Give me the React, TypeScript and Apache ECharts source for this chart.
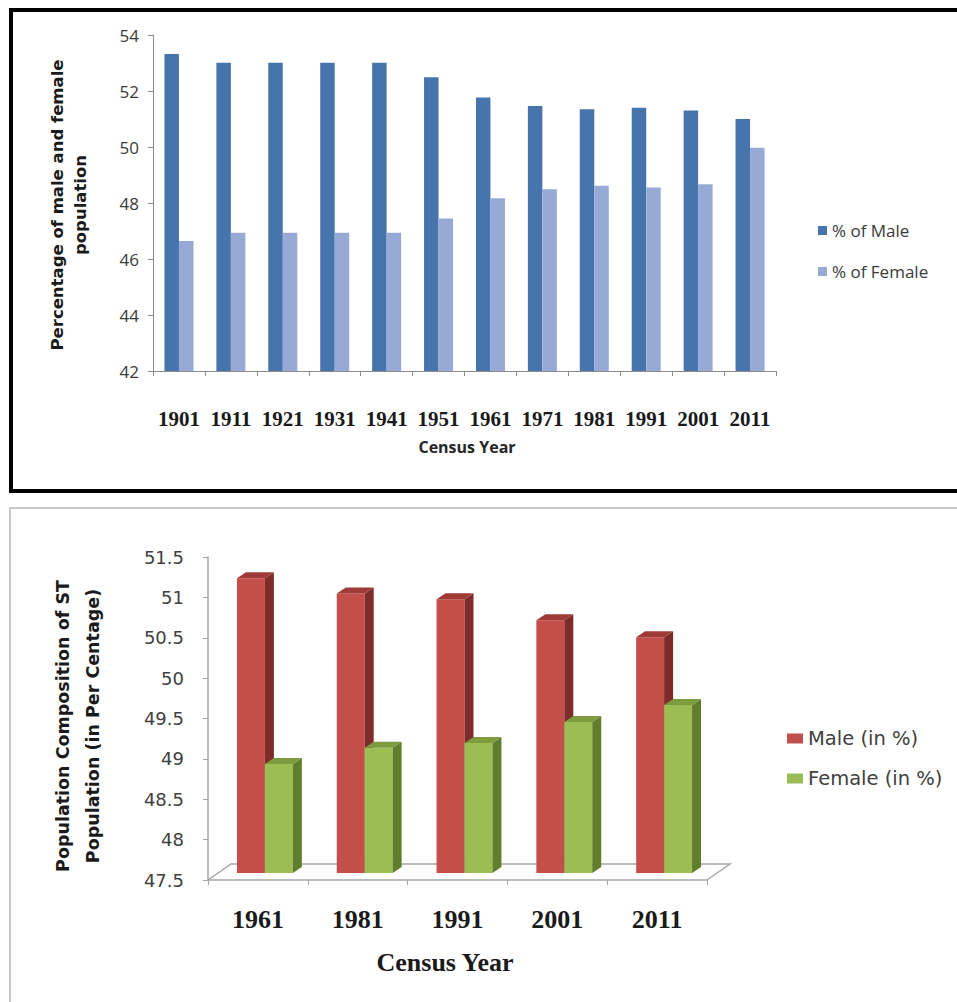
import React, { useEffect, useRef } from "react";
import * as echarts from "echarts";

// ---------- Top chart data ----------
const censusYears = ["1901", "1911", "1921", "1931", "1941", "1951", "1961", "1971", "1981", "1991", "2001", "2011"];
const malePct = [53.32, 53.01, 53.01, 53.01, 53.01, 52.49, 51.77, 51.46, 51.35, 51.4, 51.3, 51.0];
const femalePct = [46.64, 46.94, 46.94, 46.94, 46.94, 47.45, 48.17, 48.49, 48.62, 48.55, 48.67, 49.97];
const topAxisMin = 42;
const topAxisMax = 54;
const topAxisStep = 2;

// ---------- Bottom chart data ----------
const stYears = ["1961", "1981", "1991", "2001", "2011"];
const stMale = [51.15, 50.96, 50.89, 50.63, 50.42];
const stFemale = [48.85, 49.05, 49.11, 49.37, 49.58];
const stAxisMin = 47.5;
const stAxisMax = 51.5;
const stAxisStep = 0.5;

// pseudo-3D geometry (pixels)
const FACE_SHIFT_X = 7;
const FACE_SHIFT_Y = -7;
const BAR_DEPTH_X = 9;
const BAR_DEPTH_Y = -6;
const FLOOR_DEPTH_X = 23;
const FLOOR_DEPTH_Y = -16;
const BAR_FRAC = 0.28;

function bar3D(offsetFrac: number, front: string, side: string, top: string) {
  return (params: any, api: any) => {
    const cat = api.value(0);
    const val = api.value(1);
    const base = api.coord([cat, stAxisMin]);
    const head = api.coord([cat, val]);
    const band = api.size([1, 0])[0];
    const w = band * BAR_FRAC;
    const x0 = head[0] + offsetFrac * band + FACE_SHIFT_X;
    const x1 = x0 + w;
    const yb = base[1] + FACE_SHIFT_Y;
    const yt = head[1] + FACE_SHIFT_Y;
    return {
      type: "group",
      children: [
        { type: "polygon", shape: { points: [[x0, yb], [x1, yb], [x1, yt], [x0, yt]] }, style: { fill: front } },
        {
          type: "polygon",
          shape: { points: [[x1, yb], [x1 + BAR_DEPTH_X, yb + BAR_DEPTH_Y], [x1 + BAR_DEPTH_X, yt + BAR_DEPTH_Y], [x1, yt]] },
          style: { fill: side },
        },
        {
          type: "polygon",
          shape: { points: [[x0, yt], [x1, yt], [x1 + BAR_DEPTH_X, yt + BAR_DEPTH_Y], [x0 + BAR_DEPTH_X, yt + BAR_DEPTH_Y]] },
          style: { fill: top },
        },
      ],
    };
  };
}

function floorRender(params: any, api: any) {
  const band = api.size([1, 0])[0];
  const a = api.coord([0, stAxisMin]);
  const b = api.coord([stYears.length - 1, stAxisMin]);
  const xl = a[0] - band / 2;
  const xr = b[0] + band / 2;
  const y = a[1];
  return {
    type: "group",
    children: [
      {
        type: "polyline",
        shape: { points: [[xl, y], [xl + FLOOR_DEPTH_X, y + FLOOR_DEPTH_Y], [xr + FLOOR_DEPTH_X, y + FLOOR_DEPTH_Y], [xr, y]] },
        style: { stroke: "#a6a6a6", lineWidth: 1.5, fill: "none" },
      },
    ],
  };
}

export default function App() {
  const ref = useRef<HTMLDivElement>(null);
  useEffect(() => {
    if (!ref.current) return;
    const chart = echarts.init(ref.current, null, { renderer: "svg" });
    const grayAxis = { lineStyle: { color: "#8c8c8c", width: 1 } };
    const option: any = {
      animation: false,
      backgroundColor: "#ffffff",
      grid: [
        { left: 153, top: 35, width: 623, height: 336 },
        { left: 208, top: 557, width: 499, height: 323 },
      ],
      legend: [
        {
          data: ["% of Male", "% of Female"],
          orient: "vertical",
          left: 813,
          top: 216,
          itemWidth: 9,
          itemHeight: 9,
          itemGap: 22,
          icon: "rect",
          textStyle: { fontFamily: "Open Sans", fontSize: 17, color: "#3a3a3a", lineHeight: 19 },
        },
        {
          data: ["Male (in %)", "Female (in %)"],
          orient: "vertical",
          left: 782,
          top: 723,
          itemWidth: 16,
          itemHeight: 10,
          itemGap: 19,
          icon: "rect",
          textStyle: { fontFamily: "DejaVu Sans", fontSize: 19.5, color: "#404040", lineHeight: 21 },
        },
      ],
      xAxis: [
        {
          type: "category",
          gridIndex: 0,
          data: censusYears,
          axisLine: grayAxis,
          axisTick: { show: true, length: 5, lineStyle: { color: "#8c8c8c" } },
          axisLabel: {
            margin: 37,
            fontFamily: "Liberation Serif",
            fontWeight: "bold",
            fontSize: 21,
            color: "#1a1a1a",
            interval: 0,
          },
        },
        {
          type: "category",
          gridIndex: 1,
          data: stYears,
          axisLine: { lineStyle: { color: "#a6a6a6", width: 1.5 } },
          axisTick: { show: true, length: 5, lineStyle: { color: "#a6a6a6" } },
          axisLabel: {
            margin: 26,
            fontFamily: "Liberation Serif",
            fontWeight: "bold",
            fontSize: 26,
            color: "#1a1a1a",
            interval: 0,
          },
        },
      ],
      yAxis: [
        {
          type: "value",
          gridIndex: 0,
          min: topAxisMin,
          max: topAxisMax,
          interval: topAxisStep,
          axisLine: { show: true, ...grayAxis },
          axisTick: { show: true, length: 5, lineStyle: { color: "#8c8c8c" } },
          splitLine: { show: false },
          axisLabel: { margin: 14, fontFamily: "Open Sans", fontSize: 17, color: "#3a3a3a" },
        },
        {
          type: "value",
          gridIndex: 1,
          min: stAxisMin,
          max: stAxisMax,
          interval: stAxisStep,
          axisLine: { show: true, lineStyle: { color: "#a6a6a6", width: 1.5 } },
          axisTick: { show: true, length: 5, lineStyle: { color: "#a6a6a6" } },
          splitLine: { show: false },
          axisLabel: { margin: 24, fontFamily: "DejaVu Sans", fontSize: 18, color: "#404040" },
        },
      ],
      series: [
        {
          name: "% of Male",
          type: "bar",
          xAxisIndex: 0,
          yAxisIndex: 0,
          data: malePct,
          barWidth: 14.5,
          barGap: "0%",
          itemStyle: { color: "#4774ad" },
        },
        {
          name: "% of Female",
          type: "bar",
          xAxisIndex: 0,
          yAxisIndex: 0,
          data: femalePct,
          barWidth: 14.5,
          barGap: "0%",
          itemStyle: { color: "#97aad5" },
        },
        {
          name: "floor",
          type: "custom",
          xAxisIndex: 1,
          yAxisIndex: 1,
          silent: true,
          z: 1,
          data: [[0, stAxisMin]],
          encode: { x: 0, y: 1 },
          renderItem: floorRender,
        },
        {
          name: "Male (in %)",
          type: "custom",
          xAxisIndex: 1,
          yAxisIndex: 1,
          z: 3,
          itemStyle: { color: "#c0504d" },
          data: stMale.map((v, i) => [i, v]),
          encode: { x: 0, y: 1 },
          renderItem: bar3D(-BAR_FRAC, "#c44f4a", "#7e2c29", "#9e3b37"),
        },
        {
          name: "Female (in %)",
          type: "custom",
          xAxisIndex: 1,
          yAxisIndex: 1,
          z: 3,
          itemStyle: { color: "#9bbb59" },
          data: stFemale.map((v, i) => [i, v]),
          encode: { x: 0, y: 1 },
          renderItem: bar3D(0, "#9bbd54", "#5f7f2c", "#7d9c3f"),
        },
      ],
      graphic: [
        {
          type: "rect",
          shape: { x: 11, y: 10, width: 1000, height: 481 },
          style: { fill: "none", stroke: "#000000", lineWidth: 4 },
          silent: true,
        },
        {
          type: "rect",
          shape: { x: 10, y: 508, width: 1000, height: 600 },
          style: { fill: "none", stroke: "#c8c8c8", lineWidth: 2 },
          silent: true,
        },
        {
          type: "text",
          x: 69,
          y: 205,
          rotation: Math.PI / 2,
          style: {
            text: "Percentage of male and female\npopulation",
            align: "center",
            verticalAlign: "middle",
            fontFamily: "DejaVu Sans",
            fontWeight: "bold",
            fontSize: 16.5,
            lineHeight: 23,
            fill: "#1a1a1a",
          },
        },
        {
          type: "text",
          x: 467,
          y: 447,
          style: {
            text: "Census Year",
            align: "center",
            verticalAlign: "middle",
            fontFamily: "Open Sans",
            fontWeight: "bold",
            fontSize: 16,
            fill: "#262626",
          },
        },
        {
          type: "text",
          x: 78,
          y: 726,
          rotation: Math.PI / 2,
          style: {
            text: "Population Composition of ST\nPopulation (in Per Centage)",
            align: "center",
            verticalAlign: "middle",
            fontFamily: "DejaVu Sans",
            fontWeight: "bold",
            fontSize: 17.5,
            lineHeight: 30,
            fill: "#1a1a1a",
          },
        },
        {
          type: "text",
          x: 445,
          y: 962,
          style: {
            text: "Census Year",
            align: "center",
            verticalAlign: "middle",
            fontFamily: "Liberation Serif",
            fontWeight: "bold",
            fontSize: 26,
            fill: "#1a1a1a",
          },
        },
      ],
    };
    chart.setOption(option);
    return () => chart.dispose();
  }, []);
  return (
    <div
      ref={ref}
      style={{ position: "absolute", left: 0, top: 0, width: 957, height: 1002, background: "#fff" }}
    />
  );
}
